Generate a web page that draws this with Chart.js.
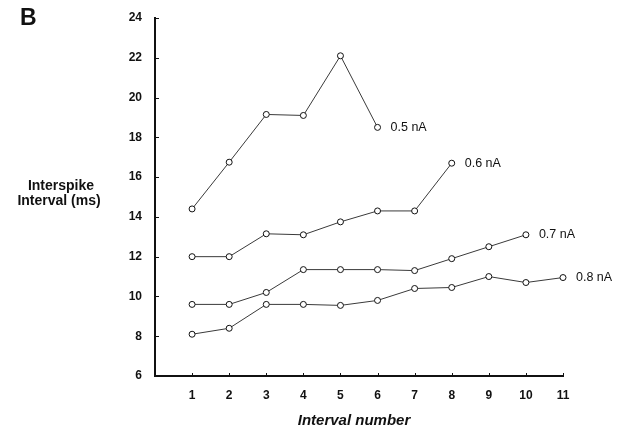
<!DOCTYPE html>
<html>
<head>
<meta charset="utf-8">
<script src="https://cdn.jsdelivr.net/npm/chart.js@4.4.0/dist/chart.umd.min.js"></script>
<style>
  html, body { margin: 0; padding: 0; background: #fff; }
  #wrap { width: 629px; height: 436px; position: relative; }
</style>
</head>
<body>
<div id="wrap"><canvas id="isiChart" width="629" height="436"></canvas></div>
<script>
var intervals = [1, 2, 3, 4, 5, 6, 7, 8, 9, 10, 11];
var seriesNames = ["0.5 nA", "0.6 nA", "0.7 nA", "0.8 nA"];
var isi05 = [14.4, 16.75, 19.15, 19.1, 22.1, 18.5];
var isi06 = [12.0, 12.0, 13.15, 13.1, 13.75, 14.3, 14.3, 16.7];
var isi07 = [9.6, 9.6, 10.2, 11.35, 11.35, 11.35, 11.3, 11.9, 12.5, 13.1];
var isi08 = [8.1, 8.4, 9.6, 9.6, 9.55, 9.8, 10.4, 10.45, 11.0, 10.7, 10.95];
var yTicks = [6, 8, 10, 12, 14, 16, 18, 20, 22, 24];

var FONT = "'Liberation Sans', Arial, sans-serif";

function pts(vals) {
    return vals.map(function(v, i) { return {x: intervals[i], y: v}; });
}

function series(label, vals) {
    return {
        label: label,
        data: pts(vals),
        borderColor: "#3a3a3a",
        borderWidth: 1,
        pointRadius: 3,
        pointBorderWidth: 1,
        pointBackgroundColor: "#fff",
        pointBorderColor: "#111",
        tension: 0,
        clip: false
    };
}

// inward tick marks, end-of-line labels, panel letter and axis titles
var textPlugin = {
    id: "texts",
    afterDatasetsDraw: function(chart) {
        var ctx = chart.ctx;
        var xs = chart.scales.x, ys = chart.scales.y;
        var area = chart.chartArea;
        ctx.save();
        ctx.strokeStyle = "#111";
        ctx.lineWidth = 1;
        ctx.beginPath();
        intervals.forEach(function(v) {
            var px = Math.round(xs.getPixelForValue(v)) + 0.5;
            ctx.moveTo(px, area.bottom);
            ctx.lineTo(px, area.bottom - 3);
        });
        yTicks.forEach(function(v) {
            var py = Math.round(ys.getPixelForValue(v)) + 0.5;
            ctx.moveTo(area.left, py);
            ctx.lineTo(area.left + 4, py);
        });
        ctx.stroke();

        ctx.fillStyle = "#111";
        ctx.textBaseline = "middle";
        ctx.textAlign = "left";
        ctx.font = "12.5px " + FONT;
        chart.data.datasets.forEach(function(ds) {
            var last = ds.data[ds.data.length - 1];
            ctx.fillText(ds.label, xs.getPixelForValue(last.x) + 13, ys.getPixelForValue(last.y));
        });
        ctx.font = "bold 23px " + FONT;
        ctx.fillText("B", 20, 19);
        ctx.textAlign = "center";
        ctx.font = "bold 14px " + FONT;
        ctx.fillText("Interspike", 61, 186);
        ctx.fillText("Interval (ms)", 59, 201);
        ctx.font = "italic bold 15px " + FONT;
        ctx.fillText("Interval number", 354, 421);
        ctx.restore();
    }
};

new Chart("isiChart", {
    type: "line",
    data: {
        datasets: [
            series(seriesNames[0], isi05),
            series(seriesNames[1], isi06),
            series(seriesNames[2], isi07),
            series(seriesNames[3], isi08)
        ]
    },
    options: {
        responsive: false,
        animation: false,
        layout: {padding: {left: 0, right: 66, top: 18, bottom: 0}},
        plugins: {
            legend: {display: false},
            tooltip: {enabled: false}
        },
        scales: {
            x: {
                type: "linear",
                min: 0,
                max: 11,
                afterBuildTicks: function(s) {
                    s.ticks = intervals.map(function(v) { return {value: v}; });
                },
                afterFit: function(s) { s.height = 60; },
                grid: {display: false},
                border: {color: "#111", width: 2},
                ticks: {
                    color: "#111",
                    padding: 4,
                    font: {family: FONT, size: 12, weight: "bold"}
                }
            },
            y: {
                min: 6,
                max: 24,
                afterBuildTicks: function(s) {
                    s.ticks = yTicks.map(function(v) { return {value: v}; });
                },
                afterFit: function(s) { s.width = 155; },
                grid: {display: false},
                border: {color: "#111", width: 2},
                ticks: {
                    color: "#111",
                    padding: 5,
                    font: {family: FONT, size: 12, weight: "bold"}
                }
            }
        }
    },
    plugins: [textPlugin]
});
</script>
</body>
</html>
